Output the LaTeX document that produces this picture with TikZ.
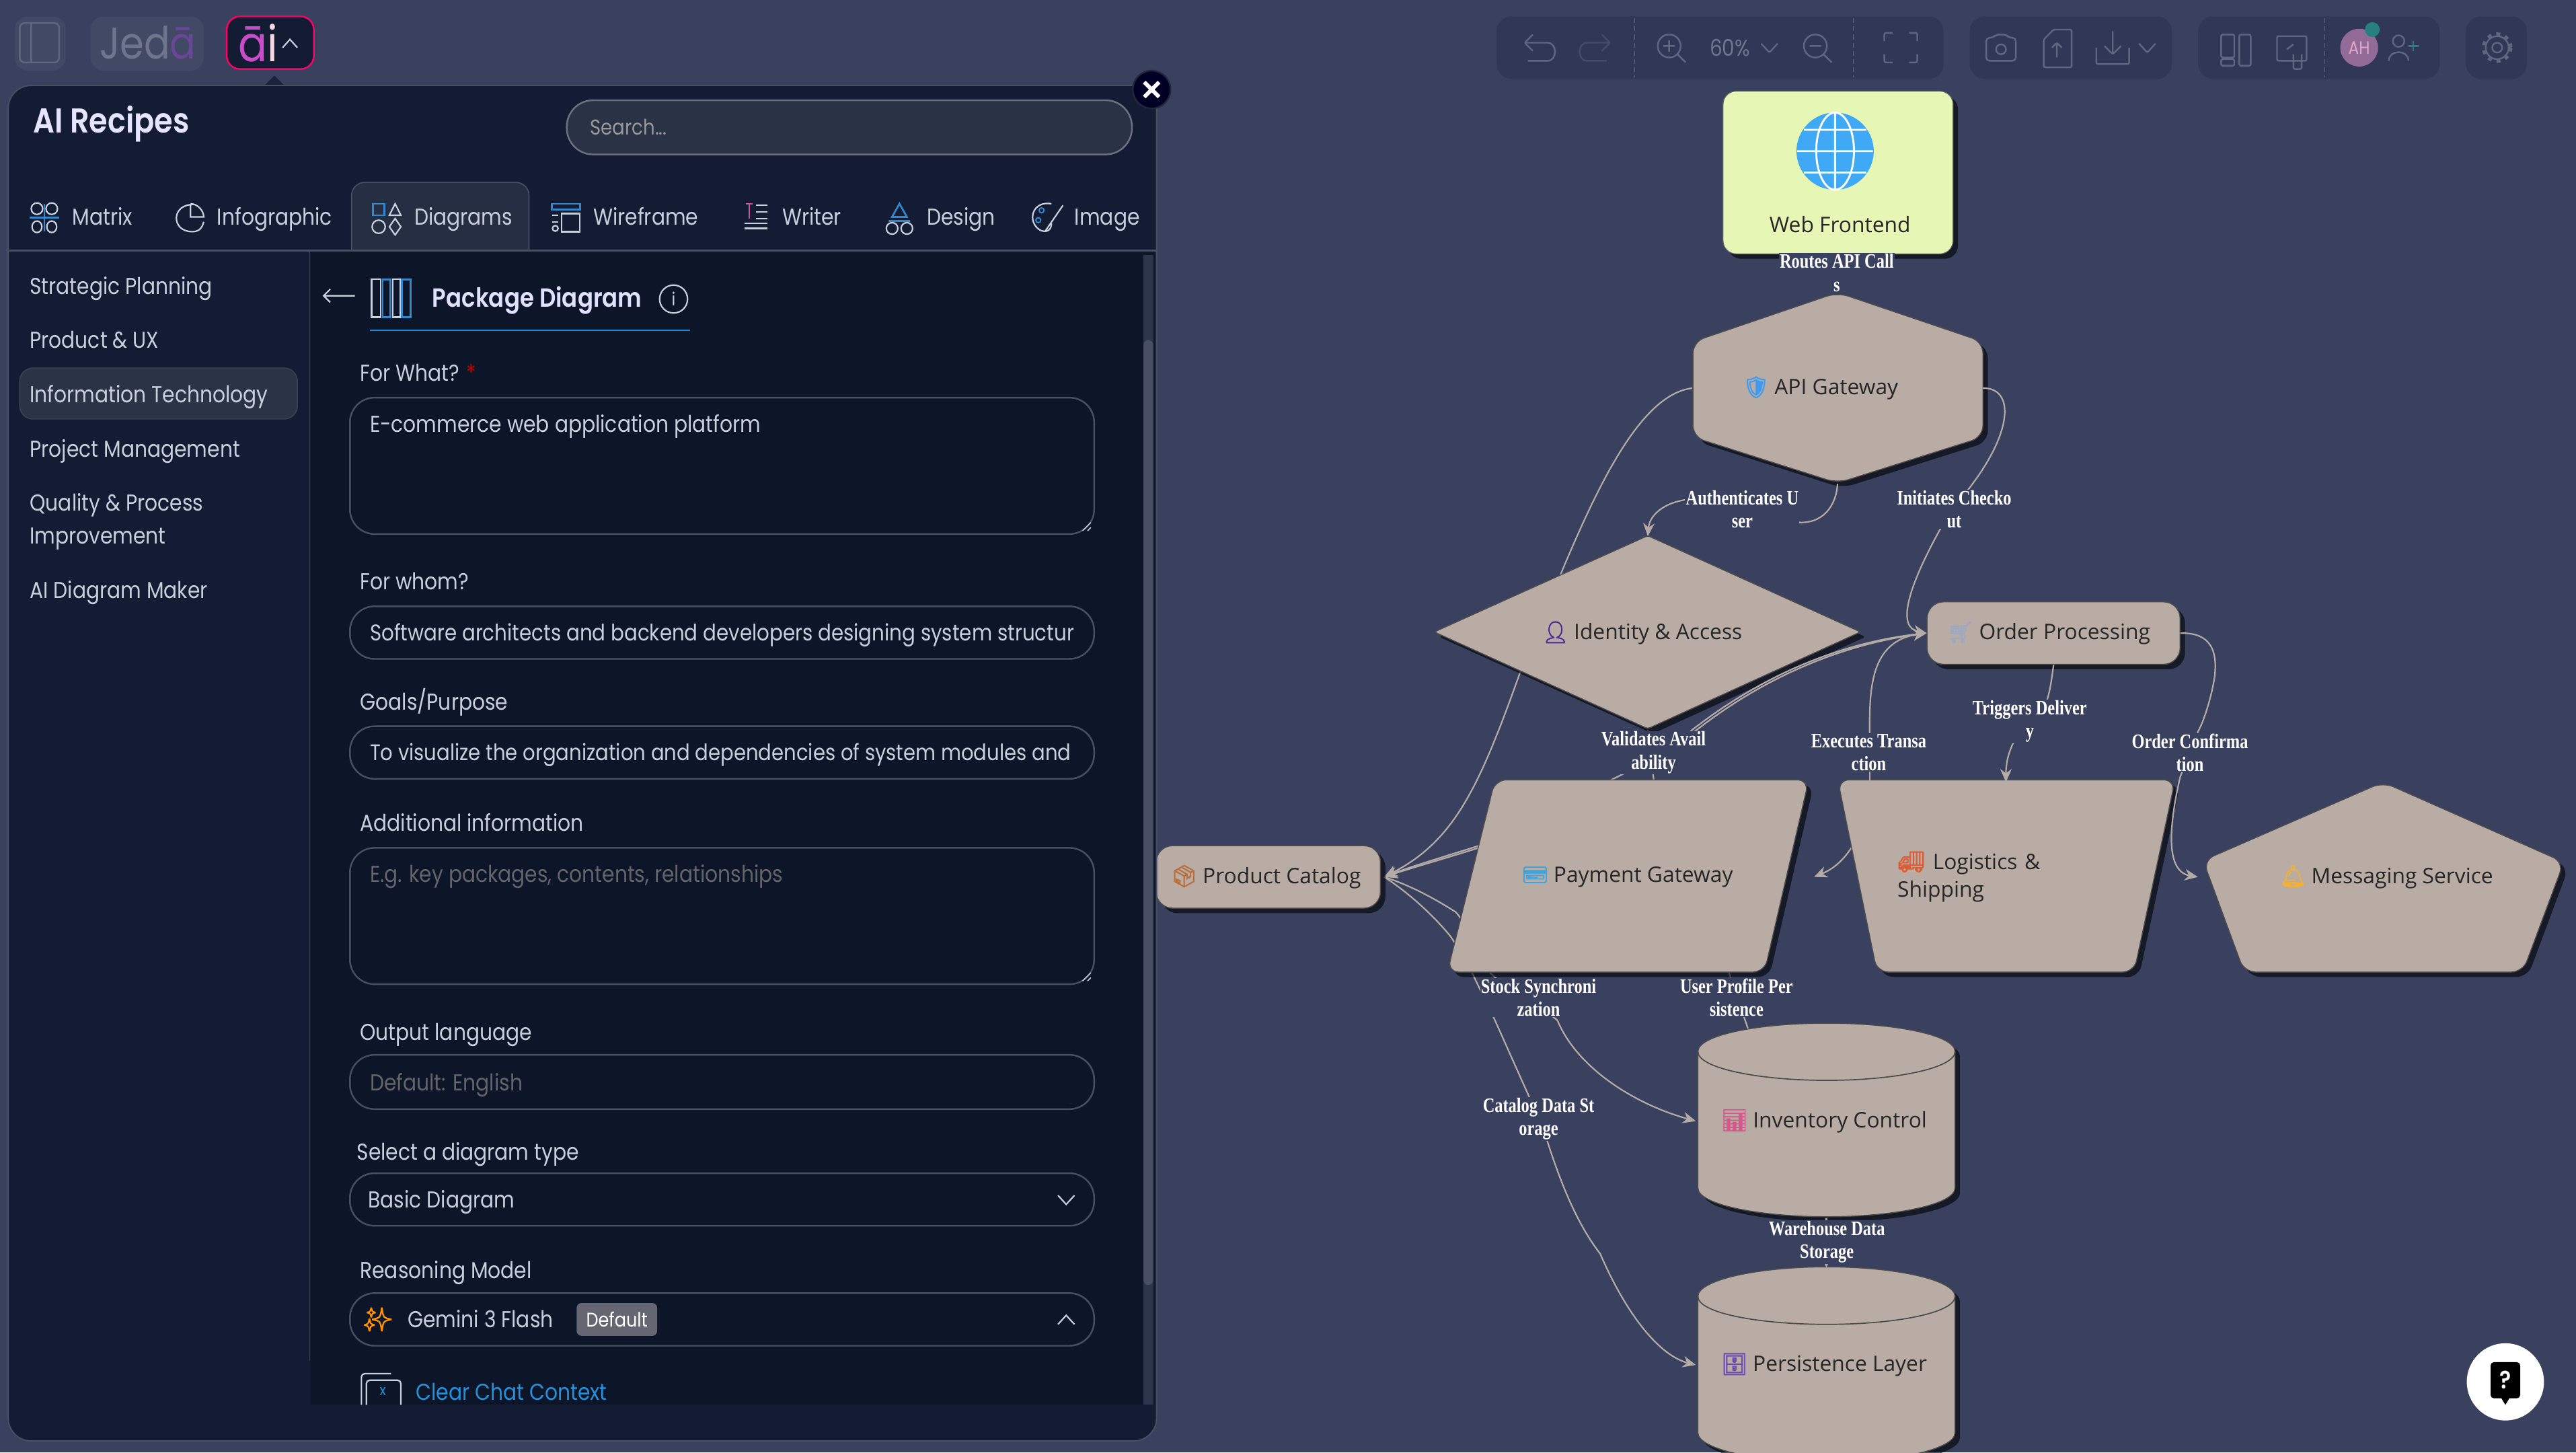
\documentclass[tikz,border=0pt]{standalone}
\usepackage{fontspec}
\usetikzlibrary{arrows.meta, shadows, positioning}
\setmainfont[FakeStretch=0.87, BoldFont={* SemiBold}]{Poppins}
\newfontfamily\nodefont{Open Sans}
\newfontfamily\edgefont[FakeStretch=0.8]{Liberation Serif}
\newfontfamily\emojifont[FakeBold=2.5]{Noto Emoji}
\newcommand{\icon}[2]{{\emojifont\textcolor[HTML]{#1}{#2}}\hspace{3pt}}
\definecolor{canvas}{HTML}{39415F}
\definecolor{panel}{HTML}{131C33}
\definecolor{content}{HTML}{0D1629}
\definecolor{fieldline}{HTML}{484F64}
\definecolor{uitext}{HTML}{C8D0DE}
\definecolor{tool}{HTML}{303856}
\definecolor{toolline}{HTML}{5E6680}
\definecolor{blob}{HTML}{B8ACA5}
\definecolor{wire}{HTML}{B3ABA6}
\definecolor{lime}{HTML}{E6F6B4}
\definecolor{globe}{HTML}{3FA9F5}
\tikzstyle{shape_fill} = [fill=blob, draw=black!70, line width=0.6pt, rounded corners=7pt, drop shadow={shadow xshift=3pt, shadow yshift=-3pt, opacity=0.6, fill=black}]
\tikzstyle{shape_text} = [inner sep=0, text=black!85, font=\nodefont\fontsize{13}{17}\selectfont, align=center, yshift=-0.7pt]
\tikzstyle{rounded_shape} = [shape_fill, rounded corners=10pt, shape_text, minimum height=38pt]
\tikzstyle{link} = [draw=wire, line width=0.9pt, -{Stealth[length=8pt, width=7pt]}]
\tikzstyle{plain_link} = [draw=wire, line width=0.9pt]
\tikzstyle{edge_label} = [fill=canvas, inner sep=0.5pt, text=white, align=center, font=\edgefont\bfseries\fontsize{12.5}{14}\selectfont]
\tikzstyle{ui_text} = [anchor=west, inner sep=0, text height=12pt, text depth=2pt, text=uitext, font=\fontsize{14}{17}\selectfont]
\tikzstyle{ui_field} = [draw=fieldline, line width=1pt, rounded corners=15pt]
\tikzstyle{placeholder} = [ui_text, text=gray!75!content]
\tikzstyle{tool_box} = [fill=tool, rounded corners=9pt]
\tikzstyle{tool_icon} = [draw=toolline, line width=1pt, rounded corners=1pt]
\tikzstyle{tab_icon} = [draw=uitext, line width=0.9pt]
\tikzstyle{tab_blue} = [draw=blue!45!cyan!60!gray, line width=1.1pt]
\pgfdeclarelayer{back}
\pgfdeclarelayer{edges}
\pgfsetlayers{back,edges,main}
\begin{document}
\begin{tikzpicture}[x=1pt, y=-1pt]
    \useasboundingbox (0,0) rectangle (1568,883.9);
    \begin{pgfonlayer}{back}
        \fill [canvas] (0,0) rectangle (1568,883.9);
    \end{pgfonlayer}

    % toolbar
    \fill [tool_box] (911,10) rectangle (1183,48);
    \fill [tool_box] (1199,10) rectangle (1322,48);
    \fill [tool_box] (1338,10) rectangle (1485,48);
    \fill [tool_box] (1501,10) rectangle (1538,48);
    \draw [tool_icon] (933,21) -- (928,26) -- (933,31) (928,26) -- (941,26) .. controls (948,26) and (948,37) .. (941,37) -- (930,37);
    \draw [tool_icon, opacity=0.45] (975,21) -- (980,26) -- (975,31) (980,26) -- (967,26) .. controls (960,26) and (960,37) .. (967,37) -- (978,37);
    \draw [tool_icon, densely dashed, line width=0.5pt] (995,11) -- (995,47);
    \draw [tool_icon] (1016,28) circle (7) (1021,33) -- (1026,38) (1012.5,28) -- (1019.5,28) (1016,24.5) -- (1016,31.5);
    \node (zoom_value) [ui_text, anchor=center, text=toolline!90!white] at (1053,29) {60\%};
    \draw [tool_icon] (1072,26.5) -- (1077,32) -- (1082,26.5);
    \draw [tool_icon] (1105,28) circle (7) (1110,33) -- (1115,38) (1101.5,28) -- (1108.5,28);
    \draw [tool_icon, densely dashed, line width=0.5pt] (1128,11) -- (1128,47);
    \draw [tool_icon] (1147,25) -- (1147,20) -- (1152,20) (1162,20) -- (1167,20) -- (1167,25) (1167,33) -- (1167,38) -- (1162,38) (1152,38) -- (1147,38) -- (1147,33);
    \draw [tool_icon, rounded corners=2pt] (1209,23) -- (1213,23) -- (1215,21) -- (1221,21) -- (1223,23) -- (1227,23) -- (1227,37) -- (1209,37) -- cycle;
    \draw [tool_icon] (1218,30) circle (3);
    \draw [tool_icon] (1244,24) -- (1250,18) -- (1261,18) -- (1261,41) -- (1244,41) -- cycle (1252,35) -- (1252,26) (1249,29) -- (1252,26) -- (1255,29);
    \draw [tool_icon] (1276,29) -- (1276,39) -- (1296,39) -- (1296,29) (1286,19) -- (1286,33) (1281,28) -- (1286,33) -- (1291,28);
    \draw [tool_icon] (1302,26.5) -- (1307,32) -- (1312,26.5);
    \draw [tool_icon] (1352,21) rectangle (1360,35) (1352,36) rectangle (1360,40) (1363,21) rectangle (1370,40);
    \draw [tool_icon] (1386,22) rectangle (1404,37) (1392,30) -- (1396,27) (1396,33) -- (1396,42) -- (1401,42) -- (1401,33);
    \draw [tool_icon, densely dashed, line width=0.5pt] (1415,11) -- (1415,47);
    \fill [magenta!45!blue!40!gray] (1436,29) circle (11.5);
    \node (avatar_text) [inner sep=0, text=magenta!35!white!75!gray, font=\fontsize{11}{13}\selectfont] at (1436,29) {AH};
    \fill [teal!70!gray] (1444,18) circle (4.5);
    \draw [tool_icon] (1460,25) circle (3.5) (1454,37) .. controls (1454,30) and (1466,30) .. (1466,37);
    \draw [tool_icon, draw=teal!70!gray] (1466,28) -- (1472,28) (1469,25) -- (1469,31);
    \draw [tool_icon] (1520,29) circle (3);
    \draw [tool_icon] (1520,29) circle (7);
    \draw [toolline, line width=2pt, dash pattern=on 2.4pt off 3.1pt] (1520,29) circle (8.3);

    % diagram shapes
    \node (web_frontend) [fill=lime, draw=black!60, line width=0.5pt, rounded corners=8pt, minimum width=140pt, minimum height=99pt, drop shadow={shadow xshift=3pt, shadow yshift=-3pt, opacity=0.6, fill=black}] at (1118.8,105) {};
    \fill [globe] (1117,92) ellipse (23.5 and 23.5);
    \draw [white, line width=1.2pt] (1117,92) ellipse (11.5 and 23.5) (1117,68.5) -- (1117,115.5) (1094,92) -- (1140,92) (1098,79) -- (1136,79) (1098,105) -- (1136,105);
    \node (web_frontend_text) [shape_text] at (1120,136) {Web Frontend};

    \path [shape_fill] (1118.5,178) -- (1207,208) -- (1207,266) -- (1118.5,294) -- (1030.5,266) -- (1030.5,208) -- cycle;
    \node (api_gateway) [shape_text, minimum width=176.5pt, minimum height=116pt] at (1118.5,235.5) {\icon{3D9BEF}{🛡}API Gateway\hspace*{21pt}};

    \path [shape_fill, rounded corners=1.5pt] (1003,326) -- (1132.5,384.6) -- (1003,443.5) -- (873,384.6) -- cycle;
    \node (identity_access) [shape_text, minimum width=259pt, minimum height=117.5pt] at (1003,384.6) {\icon{4A2F8F}{👤}Identity \& Access\hspace*{7pt}};

    \node (order_processing) [rounded_shape, minimum width=154pt] at (1250,384.6) {\icon{9FA8C0}{🛒}Order Processing\hspace*{6pt}};
    \node (product_catalog) [rounded_shape, minimum width=136.5pt] at (772,533) {\icon{B9703C}{📦}Product Catalog\hspace*{3pt}};

    \path [shape_fill] (910,474.6) -- (1101,474.6) -- (1074,591.6) -- (881,591.6) -- cycle;
    \node (payment_gateway) [shape_text, minimum width=220pt, minimum height=117pt] at (991,533) {\icon{3FA5DE}{💳}Payment Gateway\hspace*{1pt}};

    \path [shape_fill] (1118.6,474.6) -- (1324,474.6) -- (1299,591.6) -- (1142.5,591.6) -- cycle;
    \node (logistics_shipping) [shape_text, minimum width=205pt, minimum height=117pt, text width=132pt, align=left] at (1221,533) {\icon{DF5C33}{🚚}\hspace{2pt}Logistics \&\\Shipping};

    \path [shape_fill] (1450.5,476) -- (1560.6,524.7) -- (1535.6,591.6) -- (1366,591.6) -- (1341,523.7) -- cycle;
    \node (messaging_service) [shape_text, minimum width=224pt, minimum height=117pt] at (1453,533) {\icon{F2B134}{🔔}Messaging Service\hspace*{1pt}};

    \path [shape_fill, rounded corners=0pt] (1033.5,640) .. controls (1033.5,630) and (1070,622.7) .. (1112,622.7) .. controls (1154,622.7) and (1190,630) .. (1190,640) -- (1190,723) .. controls (1190,733) and (1154,740.5) .. (1112,740.5) .. controls (1070,740.5) and (1033.5,733) .. (1033.5,723) -- cycle;
    \draw [black!70, line width=0.7pt] (1033.5,640) .. controls (1033.5,650) and (1070,657.5) .. (1112,657.5) .. controls (1154,657.5) and (1190,650) .. (1190,640);
    \node (inventory_control) [shape_text, minimum width=156.5pt, minimum height=118pt] at (1111.7,681.6) {\icon{D6588A}{📊}Inventory Control\hspace*{3pt}};

    \path [shape_fill, rounded corners=0pt] (1033.5,789) .. controls (1033.5,779) and (1070,771) .. (1112,771) .. controls (1154,771) and (1190,779) .. (1190,789) -- (1190,872) .. controls (1190,882) and (1154,890) .. (1112,890) .. controls (1070,890) and (1033.5,882) .. (1033.5,872) -- cycle;
    \draw [black!70, line width=0.7pt] (1033.5,789) .. controls (1033.5,799) and (1070,806) .. (1112,806) .. controls (1154,806) and (1190,799) .. (1190,789);
    \node (persistence_layer) [shape_text, minimum width=156.5pt, minimum height=118pt] at (1111.7,830) {\icon{6A4FB0}{🗄}Persistence Layer\hspace*{3pt}};

    % connectors that pass under the shapes
    \begin{pgfonlayer}{edges}
        \draw [link] (api_gateway.west) .. controls (1000,240) and (975,290) .. (951,347) .. controls (940,375) and (932,392) .. (925,410) .. controls (900,480) and (885,512) .. ([xshift=2pt]product_catalog.east);
        \draw [link] (955,497) .. controls (895,517) and (865,525) .. ([xshift=2pt]product_catalog.east);
        \draw [link] (956,498) .. controls (896,518) and (866,526) .. ([xshift=2pt]product_catalog.east);
        \draw [plain_link] ([xshift=2pt]product_catalog.east) .. controls (862,540) and (878,550) .. (886,555) .. controls (895,565) and (900,580) .. (907,592) .. controls (920,605) and (935,610) .. (948,621);
        \draw [link] (948,621) .. controls (960,650) and (995,672) .. ([xshift=-1pt]inventory_control.west);
        \draw [plain_link] ([xshift=2pt]product_catalog.east) .. controls (860,545) and (875,560) .. (883,570) .. controls (890,580) and (893,590) .. (896,592) -- (910,621) -- (931,668) -- (942,695);
        \draw [link] (942,695) .. controls (950,720) and (960,745) .. (974,763) .. controls (990,800) and (1010,825) .. ([xshift=-1pt]persistence_layer.west);
        \draw [plain_link] (1050,585) -- (1066,632);
        \draw [link] (1135,500) .. controls (1127,520) and (1118,528) .. ([xshift=3pt]payment_gateway.east);
        \draw [plain_link] (identity_access.south) -- (1007,478);
        \draw [plain_link] (1000,465) -- (978,476);
    \end{pgfonlayer}

    % connectors
    \draw [link] (web_frontend.south) -- (api_gateway.north);
    \draw [link] (api_gateway.south) .. controls (1118,305) and (1112,318) .. (1096,318) -- (1027,304) .. controls (1012,306) and (1004,314) .. (identity_access.north);
    \draw [link] (api_gateway.east) .. controls (1226,236) and (1226,262) .. (1198,298) -- (1181,322) .. controls (1160,360) and (1155,382) .. (order_processing.west);
    \draw [link] (1029,445) .. controls (1080,405) and (1130,390) .. (order_processing.west);
    \draw [link] (1030.5,446) .. controls (1081,406) and (1131,391) .. (order_processing.west);
    \draw [plain_link] (1138,478) -- (1138,446);
    \draw [link] (1138,446) .. controls (1138,420) and (1138,390) .. (order_processing.west);
    \draw [link] (order_processing.south) .. controls (1249,412) and (1248,420) .. (1246,426) -- (1225,453) .. controls (1222,460) and (1221,465) .. ([yshift=-1pt]logistics_shipping.north);
    \draw [plain_link] (order_processing.east) .. controls (1345,385) and (1350,395) .. (1348,412) .. controls (1346,425) and (1341,440) .. (1338,445) -- (1327,473);
    \draw [link] (1327,473) .. controls (1322,495) and (1316,530) .. ([xshift=-3pt]messaging_service.west);
    \draw [link] (inventory_control.south) -- (persistence_layer.north);

    % connector labels
    \node (routes_label) [edge_label] at (1118,166) {Routes API Call\\s};
    \node (authenticates_label) [edge_label] at (1060.5,310) {Authenticates U\\ser};
    \node (initiates_label) [edge_label] at (1189.5,310) {Initiates Checko\\ut};
    \node (validates_label) [edge_label] at (1006.5,458) {Validates Avail\\ability};
    \node (executes_label) [edge_label] at (1137.5,458) {Executes Transa\\ction};
    \node (triggers_label) [edge_label] at (1235.5,439) {Triggers Deliver\\y};
    \node (confirmation_label) [edge_label] at (1333,458) {Order Confirma\\tion};
    \node (stock_label) [edge_label] at (936.5,607) {Stock Synchroni\\zation};
    \node (profile_label) [edge_label] at (1057,607) {User Profile Per\\sistence};
    \node (storage_label) [edge_label] at (936.5,681) {Catalog Data St\\orage};
    \node (warehouse_label) [edge_label] at (1112,756) {Warehouse Data\\Storage};

    % help button
    \fill [white] (1525,841) circle (23.5);
    \fill [black, rounded corners=2pt] (1516,829) rectangle (1534,851);
    \fill [black] (1522,850) -- (1528,850) -- (1525,855) -- cycle;
    \node (help_mark) [inner sep=0, text=white, font=\bfseries\fontsize{15}{15}\selectfont] at (1525,840) {?};

    % left top buttons
    \fill [canvas!96!white, rounded corners=8pt] (9,10) rectangle (40,43);
    \draw [toolline, line width=1pt, rounded corners=3pt] (12,14) rectangle (36,38) (19,14) -- (19,38);
    \fill [canvas!96!white, rounded corners=8pt] (55,10) rectangle (124,43);
    \node (jeda_text) [inner sep=0, text=toolline!90!white, font=\fontsize{27}{27}\selectfont] at (90,26) {Jed\textcolor{purple!40!blue!45!gray}{ā}};
    \draw [fill=panel, draw=red!60!magenta, line width=1pt, rounded corners=8pt] (138,10) rectangle (191,42);
    \node (ai_text) [inner sep=0, text=white!85!purple, font=\fontsize{30}{30}\selectfont] at (157,26) {\textcolor{violet!60!magenta!70!white}{ā}i};
    \draw [uitext, line width=0.9pt] (172,29) -- (176.5,24) -- (181,29);

    % panel
    \fill [panel!85!canvas] (160,53) -- (167,46) -- (174,53) -- cycle;
    \draw [fill=panel, draw=fieldline, line width=0.8pt, rounded corners=14pt] (5,52) rectangle (704,877);
    \fill [content] (189,153) rectangle (703,855);
    \fill [fieldline!50!panel] (696,155) rectangle (702,855);
    \fill [fieldline, rounded corners=3pt] (696,207) rectangle (702,782);
    \draw [fieldline!70!panel, line width=0.6pt] (188.5,153) -- (188.5,828);
    \fill [panel] (189,855) rectangle (703,858);

    \node (panel_title) [ui_text, text=white!90!blue, font=\bfseries\fontsize{21}{23}\selectfont, text height=17pt, text depth=3pt] at (20,74) {AI Recipes};
    \draw [fill=white!8!panel!95!gray, draw=fieldline!80!white, line width=1pt, rounded corners=16pt] (345,61) rectangle (689,94);
    \node (search_text) [ui_text, text=gray!80!white, font=\fontsize{13}{15}\selectfont] at (359,77) {Search...};

    % tabs
    \draw [fill=white!8!panel, draw=fieldline, line width=0.7pt, rounded corners=8pt] (214,152) -- (214,111) -- (322,111) -- (322,152);
    \draw [fieldline, line width=1pt] (5,152.5) -- (704,152.5);
    \draw [tab_icon] (22.5,127) ellipse (3.5 and 3.5) (31.5,127) ellipse (3.5 and 3.5) (22.5,138) ellipse (3 and 3.5) (31.5,138) ellipse (3 and 3.5);
    \draw [tab_blue] (18,132.5) -- (36,132.5) (27,124) -- (27,141);
    \node (matrix_tab) [ui_text] at (44,132) {Matrix};
    \draw [tab_icon] (118,124.5) .. controls (104,124) and (104,141) .. (117,141) .. controls (121,141) and (123,139) .. (124,135) (116,124) -- (116,132) -- (124,132) .. controls (124,128) and (120,124) .. (116,124);
    \node (infographic_tab) [ui_text] at (132,132) {Infographic};
    \draw [tab_blue] (227,124) rectangle (234,131);
    \draw [tab_icon] (237,131) -- (240.5,124) -- (244,131) -- cycle (230.5,138) circle (4) (240.5,133) -- (244,138) -- (240.5,143) -- (237,138) -- cycle;
    \node (diagrams_tab) [ui_text] at (252,132) {Diagrams};
    \draw [tab_blue] (336,124) rectangle (353,127.5);
    \draw [tab_icon] (342,130) rectangle (353,141) (336,131) -- (340,131) (336,135) -- (340,135);
    \draw [tab_icon] (338,139) circle (1.7);
    \node (wireframe_tab) [ui_text] at (361,132) {Wireframe};
    \draw [draw=magenta!60!gray, line width=1pt] (454,124) -- (458,124) (456,124) -- (456,133);
    \draw [tab_icon] (460,125) -- (467,125) (460,129) -- (467,129) (460,133) -- (467,133) (453,136) -- (467,136) (453,139) -- (467,139);
    \node (writer_tab) [ui_text] at (476,132) {Writer};
    \draw [tab_blue] (547.5,124) -- (552,132) -- (543,132) -- cycle (541,134.5) -- (554,134.5);
    \draw [tab_icon] (543,139) circle (3.5) (552,139) circle (3.5);
    \node (design_tab) [ui_text] at (564,132) {Design};
    \draw [tab_icon] (640,124) .. controls (628,122) and (625,135) .. (633,140) .. controls (637,142) and (640,140) .. (640,136) (647,125) -- (636,141);
    \draw [tab_blue, line width=0.8pt] (634,128) circle (1.5) (632,134) circle (1.5);
    \node (image_tab) [ui_text] at (654,132) {Image};

    % sidebar
    \node (strategic_item) [ui_text] at (18,174) {Strategic Planning};
    \node (product_item) [ui_text] at (18,207) {Product \& UX};
    \draw [fill=white!10!panel, draw=fieldline!70!panel, line width=0.7pt, rounded corners=8pt] (12,224) rectangle (181,255);
    \node (information_item) [ui_text] at (18,240) {Information Technology};
    \node (project_item) [ui_text] at (18,273) {Project Management};
    \node (quality_item) [ui_text] at (18,306) {Quality \& Process};
    \node (improvement_item) [ui_text] at (18,326) {Improvement};
    \node (maker_item) [ui_text] at (18,359) {AI Diagram Maker};

    % recipe header
    \draw [uitext, line width=0.9pt] (216,180) -- (197,180) (201,176) -- (197,180) -- (201,184);
    \draw [tab_icon] (226.2,170) rectangle (231.7,193) (239,170) rectangle (243.6,193);
    \draw [tab_blue] (233,170) rectangle (237.6,193) (244.5,170) rectangle (250,193);
    \node (recipe_title) [ui_text, text=white!88!blue, font=\bfseries\fontsize{16}{18}\selectfont] at (263,182) {Package Diagram};
    \draw [tab_icon] (410,182) ellipse (8.5 and 8.5);
    \node (info_mark) [inner sep=0, text=uitext, font=\fontsize{11}{11}\selectfont] at (410,182) {i};
    \draw [blue!45!cyan!70!gray, line width=1pt] (225,201) -- (420,201);

    % form
    \node (what_label) [ui_text] at (219,227) {For What? \textcolor{red!75!black}{*}};
    \draw [ui_field] (213,242) rectangle (666,325);
    \node (what_value) [ui_text] at (225,258) {E-commerce web application platform};
    \draw [uitext, line width=0.6pt] (659,323) -- (664,318) (662,323) -- (664,321);
    \node (whom_label) [ui_text] at (219,354) {For whom?};
    \draw [ui_field] (213,369) rectangle (666,401);
    \node (whom_value) [ui_text, font=\fontsize{13.8}{17}\selectfont] at (225,385) {Software architects and backend developers designing system structur};
    \node (goals_label) [ui_text] at (219,427) {Goals/Purpose};
    \draw [ui_field] (213,442) rectangle (666,474);
    \node (goals_value) [ui_text, font=\fontsize{13.7}{17}\selectfont] at (225,458) {To visualize the organization and dependencies of system modules and};
    \node (additional_label) [ui_text] at (219,501) {Additional information};
    \draw [ui_field] (213,516) rectangle (666,599);
    \node (additional_value) [placeholder] at (225,532) {E.g. key packages, contents, relationships};
    \draw [uitext, line width=0.6pt] (659,597) -- (664,592) (662,597) -- (664,595);
    \node (output_label) [ui_text] at (219,628) {Output language};
    \draw [ui_field] (213,642) rectangle (666,675);
    \node (output_value) [placeholder] at (225,659) {Default: English};
    \node (type_label) [ui_text] at (217,701) {Select a diagram type};
    \draw [ui_field] (213,714) rectangle (666,746);
    \node (type_value) [ui_text] at (224,730) {Basic Diagram};
    \draw [uitext, line width=0.9pt] (644,727.5) -- (649,733) -- (654,727.5);
    \node (model_label) [ui_text] at (219,773) {Reasoning Model};
    \draw [ui_field] (213,787) rectangle (666,819);
    \node (model_spark) [inner sep=0, text=orange!85!yellow, font=\emojifont\fontsize{14}{14}\selectfont] at (230,803) {✨};
    \node (model_value) [ui_text] at (248,803) {Gemini 3 Flash};
    \fill [gray!50!fieldline, rounded corners=3pt] (351,793) rectangle (400,813);
    \node (model_badge) [inner sep=0, text=white, font=\fontsize{12}{14}\selectfont] at (375.5,803) {Default};
    \draw [uitext, line width=0.9pt] (644,806) -- (649,800.5) -- (654,806);
    \draw [tab_icon, rounded corners=2pt] (220,855) -- (220,836) -- (238,836);
    \draw [tab_icon, rounded corners=2pt] (223,855) -- (223,840) -- (244,840) -- (244,855);
    \node (clear_mark) [inner sep=0, text=blue!40!cyan!70!gray, font=\fontsize{9}{9}\selectfont] at (233,847) {x};
    \node (clear_chat) [ui_text, text=blue!40!cyan!70!gray] at (253,847) {Clear Chat Context};

    % close button
    \draw [fill=black!85!blue, draw=canvas!60!black, line width=1pt] (701,54.5) circle (11.5);
    \draw [white, line width=2.4pt] (696.5,50) -- (705.5,59) (705.5,50) -- (696.5,59);
\end{tikzpicture}
\end{document}
